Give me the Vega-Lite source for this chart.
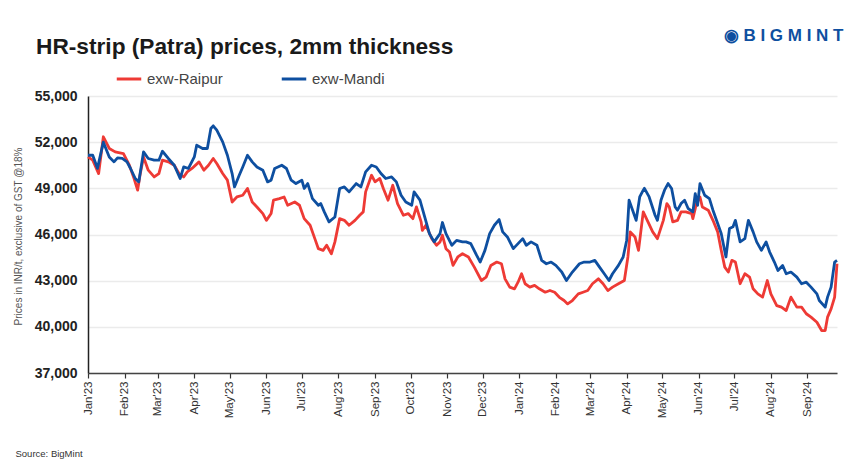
{
"$schema": "https://vega.github.io/schema/vega-lite/v6.json",
"width": 749, "height": 277,
"autosize": {"type": "none"},
"padding": {"left": 88, "top": 96, "right": 16, "bottom": 89},
"background": "white",
"config": {"font": "Liberation Sans", "view": {"stroke": null}},
"title": {"text": "HR-strip (Patra) prices, 2mm thickness", "anchor": "start", "frame": "group", "fontSize": 22.7, "fontWeight": "bold", "color": "#1a1a1a", "dx": -52, "dy": 37, "font": "Liberation Sans"},
"data": {"values": [
{"date":"2023-01-01","series":"exw-Raipur","price":51040},
{"date":"2023-01-05","series":"exw-Raipur","price":50830},
{"date":"2023-01-10","series":"exw-Raipur","price":49960},
{"date":"2023-01-14","series":"exw-Raipur","price":52350},
{"date":"2023-01-19","series":"exw-Raipur","price":51590},
{"date":"2023-01-24","series":"exw-Raipur","price":51370},
{"date":"2023-01-31","series":"exw-Raipur","price":51260},
{"date":"2023-02-05","series":"exw-Raipur","price":50500},
{"date":"2023-02-09","series":"exw-Raipur","price":49640},
{"date":"2023-02-12","series":"exw-Raipur","price":48880},
{"date":"2023-02-14","series":"exw-Raipur","price":49850},
{"date":"2023-02-17","series":"exw-Raipur","price":51040},
{"date":"2023-02-21","series":"exw-Raipur","price":50180},
{"date":"2023-02-26","series":"exw-Raipur","price":49740},
{"date":"2023-03-02","series":"exw-Raipur","price":49960},
{"date":"2023-03-05","series":"exw-Raipur","price":50830},
{"date":"2023-03-10","series":"exw-Raipur","price":50720},
{"date":"2023-03-15","series":"exw-Raipur","price":50500},
{"date":"2023-03-19","series":"exw-Raipur","price":49960},
{"date":"2023-03-23","series":"exw-Raipur","price":49740},
{"date":"2023-03-26","series":"exw-Raipur","price":50070},
{"date":"2023-03-30","series":"exw-Raipur","price":50290},
{"date":"2023-04-05","series":"exw-Raipur","price":50720},
{"date":"2023-04-09","series":"exw-Raipur","price":50180},
{"date":"2023-04-13","series":"exw-Raipur","price":50500},
{"date":"2023-04-17","series":"exw-Raipur","price":50940},
{"date":"2023-04-20","series":"exw-Raipur","price":50610},
{"date":"2023-04-25","series":"exw-Raipur","price":49960},
{"date":"2023-04-29","series":"exw-Raipur","price":49530},
{"date":"2023-05-03","series":"exw-Raipur","price":48110},
{"date":"2023-05-07","series":"exw-Raipur","price":48440},
{"date":"2023-05-12","series":"exw-Raipur","price":48550},
{"date":"2023-05-16","series":"exw-Raipur","price":48990},
{"date":"2023-05-20","series":"exw-Raipur","price":48110},
{"date":"2023-05-24","series":"exw-Raipur","price":47790},
{"date":"2023-05-29","series":"exw-Raipur","price":47360},
{"date":"2023-06-01","series":"exw-Raipur","price":46920},
{"date":"2023-06-05","series":"exw-Raipur","price":47360},
{"date":"2023-06-07","series":"exw-Raipur","price":48230},
{"date":"2023-06-12","series":"exw-Raipur","price":48330},
{"date":"2023-06-16","series":"exw-Raipur","price":48440},
{"date":"2023-06-19","series":"exw-Raipur","price":47900},
{"date":"2023-06-25","series":"exw-Raipur","price":48110},
{"date":"2023-06-29","series":"exw-Raipur","price":47900},
{"date":"2023-07-03","series":"exw-Raipur","price":47030},
{"date":"2023-07-08","series":"exw-Raipur","price":46600},
{"date":"2023-07-12","series":"exw-Raipur","price":45730},
{"date":"2023-07-15","series":"exw-Raipur","price":45080},
{"date":"2023-07-19","series":"exw-Raipur","price":44970},
{"date":"2023-07-22","series":"exw-Raipur","price":45300},
{"date":"2023-07-26","series":"exw-Raipur","price":44750},
{"date":"2023-07-29","series":"exw-Raipur","price":45520},
{"date":"2023-08-02","series":"exw-Raipur","price":47030},
{"date":"2023-08-06","series":"exw-Raipur","price":46920},
{"date":"2023-08-10","series":"exw-Raipur","price":46600},
{"date":"2023-08-15","series":"exw-Raipur","price":46920},
{"date":"2023-08-19","series":"exw-Raipur","price":47250},
{"date":"2023-08-22","series":"exw-Raipur","price":47470},
{"date":"2023-08-24","series":"exw-Raipur","price":48770},
{"date":"2023-08-29","series":"exw-Raipur","price":49850},
{"date":"2023-09-01","series":"exw-Raipur","price":49420},
{"date":"2023-09-05","series":"exw-Raipur","price":49640},
{"date":"2023-09-08","series":"exw-Raipur","price":48990},
{"date":"2023-09-12","series":"exw-Raipur","price":48230},
{"date":"2023-09-16","series":"exw-Raipur","price":49200},
{"date":"2023-09-20","series":"exw-Raipur","price":48010},
{"date":"2023-09-25","series":"exw-Raipur","price":47250},
{"date":"2023-09-29","series":"exw-Raipur","price":47360},
{"date":"2023-10-03","series":"exw-Raipur","price":47030},
{"date":"2023-10-06","series":"exw-Raipur","price":47790},
{"date":"2023-10-10","series":"exw-Raipur","price":46820},
{"date":"2023-10-11","series":"exw-Raipur","price":46270},
{"date":"2023-10-14","series":"exw-Raipur","price":46600},
{"date":"2023-10-19","series":"exw-Raipur","price":45730},
{"date":"2023-10-23","series":"exw-Raipur","price":45300},
{"date":"2023-10-26","series":"exw-Raipur","price":45520},
{"date":"2023-10-28","series":"exw-Raipur","price":45950},
{"date":"2023-10-31","series":"exw-Raipur","price":45080},
{"date":"2023-11-03","series":"exw-Raipur","price":44860},
{"date":"2023-11-06","series":"exw-Raipur","price":43990},
{"date":"2023-11-10","series":"exw-Raipur","price":44540},
{"date":"2023-11-14","series":"exw-Raipur","price":44750},
{"date":"2023-11-19","series":"exw-Raipur","price":44540},
{"date":"2023-11-24","series":"exw-Raipur","price":43880},
{"date":"2023-11-30","series":"exw-Raipur","price":43010},
{"date":"2023-12-04","series":"exw-Raipur","price":43230},
{"date":"2023-12-08","series":"exw-Raipur","price":43990},
{"date":"2023-12-13","series":"exw-Raipur","price":44210},
{"date":"2023-12-17","series":"exw-Raipur","price":44100},
{"date":"2023-12-20","series":"exw-Raipur","price":43120},
{"date":"2023-12-24","series":"exw-Raipur","price":42580},
{"date":"2023-12-28","series":"exw-Raipur","price":42470},
{"date":"2023-12-31","series":"exw-Raipur","price":42900},
{"date":"2024-01-03","series":"exw-Raipur","price":43450},
{"date":"2024-01-06","series":"exw-Raipur","price":42800},
{"date":"2024-01-10","series":"exw-Raipur","price":42580},
{"date":"2024-01-14","series":"exw-Raipur","price":42690},
{"date":"2024-01-18","series":"exw-Raipur","price":42470},
{"date":"2024-01-23","series":"exw-Raipur","price":42250},
{"date":"2024-01-27","series":"exw-Raipur","price":42360},
{"date":"2024-01-31","series":"exw-Raipur","price":42250},
{"date":"2024-02-04","series":"exw-Raipur","price":41920},
{"date":"2024-02-08","series":"exw-Raipur","price":41710},
{"date":"2024-02-11","series":"exw-Raipur","price":41490},
{"date":"2024-02-15","series":"exw-Raipur","price":41710},
{"date":"2024-02-20","series":"exw-Raipur","price":42140},
{"date":"2024-02-24","series":"exw-Raipur","price":42250},
{"date":"2024-02-28","series":"exw-Raipur","price":42360},
{"date":"2024-03-03","series":"exw-Raipur","price":42800},
{"date":"2024-03-08","series":"exw-Raipur","price":43120},
{"date":"2024-03-12","series":"exw-Raipur","price":42800},
{"date":"2024-03-16","series":"exw-Raipur","price":42360},
{"date":"2024-03-20","series":"exw-Raipur","price":42580},
{"date":"2024-03-25","series":"exw-Raipur","price":42800},
{"date":"2024-03-30","series":"exw-Raipur","price":43010},
{"date":"2024-04-02","series":"exw-Raipur","price":44540},
{"date":"2024-04-04","series":"exw-Raipur","price":46170},
{"date":"2024-04-08","series":"exw-Raipur","price":45840},
{"date":"2024-04-11","series":"exw-Raipur","price":44970},
{"date":"2024-04-15","series":"exw-Raipur","price":47470},
{"date":"2024-04-19","series":"exw-Raipur","price":46820},
{"date":"2024-04-23","series":"exw-Raipur","price":46170},
{"date":"2024-04-27","series":"exw-Raipur","price":45730},
{"date":"2024-05-02","series":"exw-Raipur","price":46920},
{"date":"2024-05-05","series":"exw-Raipur","price":48010},
{"date":"2024-05-07","series":"exw-Raipur","price":47790},
{"date":"2024-05-10","series":"exw-Raipur","price":46820},
{"date":"2024-05-14","series":"exw-Raipur","price":46920},
{"date":"2024-05-17","series":"exw-Raipur","price":47470},
{"date":"2024-05-21","series":"exw-Raipur","price":47470},
{"date":"2024-05-26","series":"exw-Raipur","price":47360},
{"date":"2024-05-27","series":"exw-Raipur","price":47030},
{"date":"2024-05-30","series":"exw-Raipur","price":48010},
{"date":"2024-06-02","series":"exw-Raipur","price":48440},
{"date":"2024-06-04","series":"exw-Raipur","price":47790},
{"date":"2024-06-09","series":"exw-Raipur","price":47580},
{"date":"2024-06-13","series":"exw-Raipur","price":46920},
{"date":"2024-06-17","series":"exw-Raipur","price":46170},
{"date":"2024-06-20","series":"exw-Raipur","price":44970},
{"date":"2024-06-23","series":"exw-Raipur","price":43880},
{"date":"2024-06-26","series":"exw-Raipur","price":43560},
{"date":"2024-06-29","series":"exw-Raipur","price":44320},
{"date":"2024-07-02","series":"exw-Raipur","price":44210},
{"date":"2024-07-06","series":"exw-Raipur","price":42800},
{"date":"2024-07-10","series":"exw-Raipur","price":43450},
{"date":"2024-07-14","series":"exw-Raipur","price":43230},
{"date":"2024-07-17","series":"exw-Raipur","price":42470},
{"date":"2024-07-21","series":"exw-Raipur","price":42140},
{"date":"2024-07-25","series":"exw-Raipur","price":41930},
{"date":"2024-07-29","series":"exw-Raipur","price":43010},
{"date":"2024-08-01","series":"exw-Raipur","price":42140},
{"date":"2024-08-06","series":"exw-Raipur","price":41380},
{"date":"2024-08-10","series":"exw-Raipur","price":41280},
{"date":"2024-08-14","series":"exw-Raipur","price":41060},
{"date":"2024-08-18","series":"exw-Raipur","price":41930},
{"date":"2024-08-23","series":"exw-Raipur","price":41280},
{"date":"2024-08-27","series":"exw-Raipur","price":41280},
{"date":"2024-08-31","series":"exw-Raipur","price":40850},
{"date":"2024-09-04","series":"exw-Raipur","price":40630},
{"date":"2024-09-09","series":"exw-Raipur","price":40300},
{"date":"2024-09-13","series":"exw-Raipur","price":39760},
{"date":"2024-09-16","series":"exw-Raipur","price":39760},
{"date":"2024-09-18","series":"exw-Raipur","price":40630},
{"date":"2024-09-21","series":"exw-Raipur","price":41170},
{"date":"2024-09-24","series":"exw-Raipur","price":41930},
{"date":"2024-09-26","series":"exw-Raipur","price":44100},
{"date":"2023-01-01","series":"exw-Mandi","price":51150},
{"date":"2023-01-05","series":"exw-Mandi","price":51150},
{"date":"2023-01-09","series":"exw-Mandi","price":50300},
{"date":"2023-01-14","series":"exw-Mandi","price":52000},
{"date":"2023-01-19","series":"exw-Mandi","price":51040},
{"date":"2023-01-23","series":"exw-Mandi","price":50720},
{"date":"2023-01-26","series":"exw-Mandi","price":50980},
{"date":"2023-01-30","series":"exw-Mandi","price":50940},
{"date":"2023-02-03","series":"exw-Mandi","price":50720},
{"date":"2023-02-06","series":"exw-Mandi","price":50290},
{"date":"2023-02-10","series":"exw-Mandi","price":49640},
{"date":"2023-02-13","series":"exw-Mandi","price":49420},
{"date":"2023-02-17","series":"exw-Mandi","price":51370},
{"date":"2023-02-21","series":"exw-Mandi","price":50940},
{"date":"2023-02-26","series":"exw-Mandi","price":50830},
{"date":"2023-03-02","series":"exw-Mandi","price":50830},
{"date":"2023-03-05","series":"exw-Mandi","price":51410},
{"date":"2023-03-10","series":"exw-Mandi","price":50940},
{"date":"2023-03-15","series":"exw-Mandi","price":50500},
{"date":"2023-03-20","series":"exw-Mandi","price":49640},
{"date":"2023-03-23","series":"exw-Mandi","price":50390},
{"date":"2023-03-27","series":"exw-Mandi","price":50290},
{"date":"2023-04-01","series":"exw-Mandi","price":51040},
{"date":"2023-04-03","series":"exw-Mandi","price":51800},
{"date":"2023-04-08","series":"exw-Mandi","price":51590},
{"date":"2023-04-12","series":"exw-Mandi","price":51590},
{"date":"2023-04-15","series":"exw-Mandi","price":52890},
{"date":"2023-04-17","series":"exw-Mandi","price":53060},
{"date":"2023-04-20","series":"exw-Mandi","price":52780},
{"date":"2023-04-25","series":"exw-Mandi","price":52020},
{"date":"2023-04-29","series":"exw-Mandi","price":51150},
{"date":"2023-05-03","series":"exw-Mandi","price":49960},
{"date":"2023-05-05","series":"exw-Mandi","price":49090},
{"date":"2023-05-09","series":"exw-Mandi","price":49850},
{"date":"2023-05-12","series":"exw-Mandi","price":50390},
{"date":"2023-05-16","series":"exw-Mandi","price":51150},
{"date":"2023-05-20","series":"exw-Mandi","price":50720},
{"date":"2023-05-24","series":"exw-Mandi","price":50390},
{"date":"2023-05-29","series":"exw-Mandi","price":50180},
{"date":"2023-06-02","series":"exw-Mandi","price":49420},
{"date":"2023-06-05","series":"exw-Mandi","price":49530},
{"date":"2023-06-08","series":"exw-Mandi","price":50290},
{"date":"2023-06-14","series":"exw-Mandi","price":50500},
{"date":"2023-06-18","series":"exw-Mandi","price":50290},
{"date":"2023-06-22","series":"exw-Mandi","price":49530},
{"date":"2023-06-26","series":"exw-Mandi","price":49310},
{"date":"2023-07-01","series":"exw-Mandi","price":49530},
{"date":"2023-07-03","series":"exw-Mandi","price":48990},
{"date":"2023-07-06","series":"exw-Mandi","price":49310},
{"date":"2023-07-10","series":"exw-Mandi","price":48330},
{"date":"2023-07-15","series":"exw-Mandi","price":47900},
{"date":"2023-07-17","series":"exw-Mandi","price":48010},
{"date":"2023-07-20","series":"exw-Mandi","price":47470},
{"date":"2023-07-24","series":"exw-Mandi","price":46820},
{"date":"2023-07-29","series":"exw-Mandi","price":47140},
{"date":"2023-08-02","series":"exw-Mandi","price":48990},
{"date":"2023-08-06","series":"exw-Mandi","price":49090},
{"date":"2023-08-10","series":"exw-Mandi","price":48770},
{"date":"2023-08-16","series":"exw-Mandi","price":49310},
{"date":"2023-08-20","series":"exw-Mandi","price":49090},
{"date":"2023-08-24","series":"exw-Mandi","price":50070},
{"date":"2023-08-29","series":"exw-Mandi","price":50500},
{"date":"2023-09-02","series":"exw-Mandi","price":50390},
{"date":"2023-09-06","series":"exw-Mandi","price":49960},
{"date":"2023-09-10","series":"exw-Mandi","price":49640},
{"date":"2023-09-15","series":"exw-Mandi","price":49740},
{"date":"2023-09-19","series":"exw-Mandi","price":49420},
{"date":"2023-09-23","series":"exw-Mandi","price":48550},
{"date":"2023-09-27","series":"exw-Mandi","price":48110},
{"date":"2023-10-02","series":"exw-Mandi","price":47900},
{"date":"2023-10-04","series":"exw-Mandi","price":48770},
{"date":"2023-10-09","series":"exw-Mandi","price":48230},
{"date":"2023-10-13","series":"exw-Mandi","price":47140},
{"date":"2023-10-17","series":"exw-Mandi","price":46060},
{"date":"2023-10-21","series":"exw-Mandi","price":45520},
{"date":"2023-10-26","series":"exw-Mandi","price":46060},
{"date":"2023-10-28","series":"exw-Mandi","price":46780},
{"date":"2023-10-31","series":"exw-Mandi","price":46060},
{"date":"2023-11-05","series":"exw-Mandi","price":45300},
{"date":"2023-11-09","series":"exw-Mandi","price":45620},
{"date":"2023-11-14","series":"exw-Mandi","price":45520},
{"date":"2023-11-17","series":"exw-Mandi","price":45520},
{"date":"2023-11-21","series":"exw-Mandi","price":45410},
{"date":"2023-11-26","series":"exw-Mandi","price":44640},
{"date":"2023-11-29","series":"exw-Mandi","price":44210},
{"date":"2023-12-03","series":"exw-Mandi","price":44970},
{"date":"2023-12-07","series":"exw-Mandi","price":46060},
{"date":"2023-12-11","series":"exw-Mandi","price":46600},
{"date":"2023-12-15","series":"exw-Mandi","price":46970},
{"date":"2023-12-18","series":"exw-Mandi","price":46170},
{"date":"2023-12-22","series":"exw-Mandi","price":45840},
{"date":"2023-12-27","series":"exw-Mandi","price":45080},
{"date":"2023-12-31","series":"exw-Mandi","price":45410},
{"date":"2024-01-04","series":"exw-Mandi","price":45730},
{"date":"2024-01-07","series":"exw-Mandi","price":45300},
{"date":"2024-01-11","series":"exw-Mandi","price":45520},
{"date":"2024-01-16","series":"exw-Mandi","price":45300},
{"date":"2024-01-20","series":"exw-Mandi","price":44320},
{"date":"2024-01-24","series":"exw-Mandi","price":44100},
{"date":"2024-01-28","series":"exw-Mandi","price":44210},
{"date":"2024-02-01","series":"exw-Mandi","price":43990},
{"date":"2024-02-06","series":"exw-Mandi","price":43560},
{"date":"2024-02-10","series":"exw-Mandi","price":43010},
{"date":"2024-02-15","series":"exw-Mandi","price":43560},
{"date":"2024-02-21","series":"exw-Mandi","price":44100},
{"date":"2024-02-25","series":"exw-Mandi","price":44210},
{"date":"2024-03-01","series":"exw-Mandi","price":44210},
{"date":"2024-03-05","series":"exw-Mandi","price":44320},
{"date":"2024-03-09","series":"exw-Mandi","price":43880},
{"date":"2024-03-13","series":"exw-Mandi","price":43450},
{"date":"2024-03-17","series":"exw-Mandi","price":43010},
{"date":"2024-03-20","series":"exw-Mandi","price":43450},
{"date":"2024-03-25","series":"exw-Mandi","price":43990},
{"date":"2024-03-29","series":"exw-Mandi","price":44540},
{"date":"2024-04-01","series":"exw-Mandi","price":45630},
{"date":"2024-04-03","series":"exw-Mandi","price":48230},
{"date":"2024-04-06","series":"exw-Mandi","price":47580},
{"date":"2024-04-09","series":"exw-Mandi","price":46920},
{"date":"2024-04-12","series":"exw-Mandi","price":48440},
{"date":"2024-04-15","series":"exw-Mandi","price":48880},
{"date":"2024-04-16","series":"exw-Mandi","price":49000},
{"date":"2024-04-20","series":"exw-Mandi","price":48440},
{"date":"2024-04-25","series":"exw-Mandi","price":47250},
{"date":"2024-04-27","series":"exw-Mandi","price":46920},
{"date":"2024-04-30","series":"exw-Mandi","price":48230},
{"date":"2024-05-03","series":"exw-Mandi","price":48880},
{"date":"2024-05-06","series":"exw-Mandi","price":49310},
{"date":"2024-05-09","series":"exw-Mandi","price":48990},
{"date":"2024-05-12","series":"exw-Mandi","price":47790},
{"date":"2024-05-14","series":"exw-Mandi","price":47580},
{"date":"2024-05-17","series":"exw-Mandi","price":48010},
{"date":"2024-05-20","series":"exw-Mandi","price":48230},
{"date":"2024-05-23","series":"exw-Mandi","price":47690},
{"date":"2024-05-27","series":"exw-Mandi","price":47470},
{"date":"2024-05-29","series":"exw-Mandi","price":48660},
{"date":"2024-05-31","series":"exw-Mandi","price":47900},
{"date":"2024-06-02","series":"exw-Mandi","price":49310},
{"date":"2024-06-06","series":"exw-Mandi","price":48550},
{"date":"2024-06-10","series":"exw-Mandi","price":48330},
{"date":"2024-06-13","series":"exw-Mandi","price":47580},
{"date":"2024-06-17","series":"exw-Mandi","price":46710},
{"date":"2024-06-20","series":"exw-Mandi","price":46060},
{"date":"2024-06-24","series":"exw-Mandi","price":44540},
{"date":"2024-06-27","series":"exw-Mandi","price":46390},
{"date":"2024-06-30","series":"exw-Mandi","price":46500},
{"date":"2024-07-02","series":"exw-Mandi","price":46920},
{"date":"2024-07-06","series":"exw-Mandi","price":45520},
{"date":"2024-07-10","series":"exw-Mandi","price":45730},
{"date":"2024-07-13","series":"exw-Mandi","price":46920},
{"date":"2024-07-17","series":"exw-Mandi","price":46170},
{"date":"2024-07-20","series":"exw-Mandi","price":45520},
{"date":"2024-07-24","series":"exw-Mandi","price":44970},
{"date":"2024-07-28","series":"exw-Mandi","price":45520},
{"date":"2024-07-31","series":"exw-Mandi","price":44860},
{"date":"2024-08-04","series":"exw-Mandi","price":44210},
{"date":"2024-08-07","series":"exw-Mandi","price":43660},
{"date":"2024-08-11","series":"exw-Mandi","price":43990},
{"date":"2024-08-14","series":"exw-Mandi","price":43450},
{"date":"2024-08-18","series":"exw-Mandi","price":43560},
{"date":"2024-08-23","series":"exw-Mandi","price":43230},
{"date":"2024-08-27","series":"exw-Mandi","price":42800},
{"date":"2024-08-31","series":"exw-Mandi","price":42900},
{"date":"2024-09-04","series":"exw-Mandi","price":42580},
{"date":"2024-09-09","series":"exw-Mandi","price":42140},
{"date":"2024-09-11","series":"exw-Mandi","price":41710},
{"date":"2024-09-16","series":"exw-Mandi","price":41280},
{"date":"2024-09-18","series":"exw-Mandi","price":41930},
{"date":"2024-09-21","series":"exw-Mandi","price":42580},
{"date":"2024-09-24","series":"exw-Mandi","price":44210},
{"date":"2024-09-26","series":"exw-Mandi","price":44320}
]},
"layer": [
{
"transform": [{"filter": "datum.series === 'exw-Raipur'"}],
"mark": {"type": "line", "strokeWidth": 2.8, "strokeJoin": "round"},
"encoding": {
"x": {"field": "date", "type": "temporal", "scale": {"type": "utc", "nice": false},
"axis": {"tickCount": {"interval": "month", "step": 1}, "labelExpr": "utcFormat(datum.value, \"%b'%y\")", "labelAngle": -90, "labelFontSize": 11.5, "labelColor": "#333", "labelFont": "Liberation Sans", "labelOverlap": false, "labelFlush": false, "labelPadding": 3, "tickSize": 5, "tickColor": "#333", "tickWidth": 1.2, "domainColor": "#444", "domainWidth": 1.5, "grid": false,
"title": "Source: BigMint", "titleFontSize": 9.5, "titleFontWeight": "normal", "titleColor": "#333", "titleFont": "Liberation Sans", "titleAnchor": "start", "titleAlign": "left", "titleX": -73, "titleY": 80, "titleBaseline": "middle"}},
"y": {"field": "price", "type": "quantitative", "scale": {"domain": [37000, 55000], "nice": false, "zero": false},
"axis": {"values": [37000, 40000, 43000, 46000, 49000, 52000, 55000], "format": ",d", "labelFontSize": 14, "labelFontWeight": "bold", "labelColor": "#222", "labelFont": "Liberation Sans", "ticks": false, "labelPadding": 11, "domainColor": "#222", "domainWidth": 1.5, "grid": true, "gridColor": "#EBEBEB", "gridWidth": 1.5,
"title": "Prices in INR/t, exclusive of GST @18%", "titleFontSize": 10, "titleFontWeight": "normal", "titleColor": "#555", "titleFont": "Liberation Sans", "titleX": -70, "titleY": 140, "titleAlign": "center", "titleBaseline": "middle", "titleAngle": -90}},
"color": {"datum": "exw-Raipur", "type": "nominal", "scale": {"domain": ["exw-Raipur", "exw-Mandi"], "range": ["#EE3A35", "#0E4FA0"]},
"legend": {"orient": "none", "legendX": 27, "legendY": -31, "direction": "horizontal", "title": null, "symbolType": "stroke", "symbolStrokeWidth": 3, "symbolSize": 600, "labelFontSize": 15, "labelColor": "#444", "labelFont": "Liberation Sans", "columnPadding": 52, "labelOffset": 4}}
}
},
{
"transform": [{"filter": "datum.series === 'exw-Mandi'"}],
"mark": {"type": "line", "strokeWidth": 2.8, "strokeJoin": "round"},
"encoding": {
"x": {"field": "date", "type": "temporal",
"axis": {"orient": "top", "labels": false, "ticks": false, "domain": false, "grid": false, "title": "◉  B I G M I N T", "titleFontSize": 17, "titleFontWeight": "bold", "titleColor": "#0E4FA0", "titleFont": "Liberation Sans", "titleAnchor": "end", "titleAlign": "right", "titleX": 755, "titleY": -61, "titleBaseline": "middle"}},
"y": {"field": "price", "type": "quantitative"},
"color": {"datum": "exw-Mandi", "type": "nominal"}
}
}
],
"resolve": {"axis": {"x": "independent"}}
}
